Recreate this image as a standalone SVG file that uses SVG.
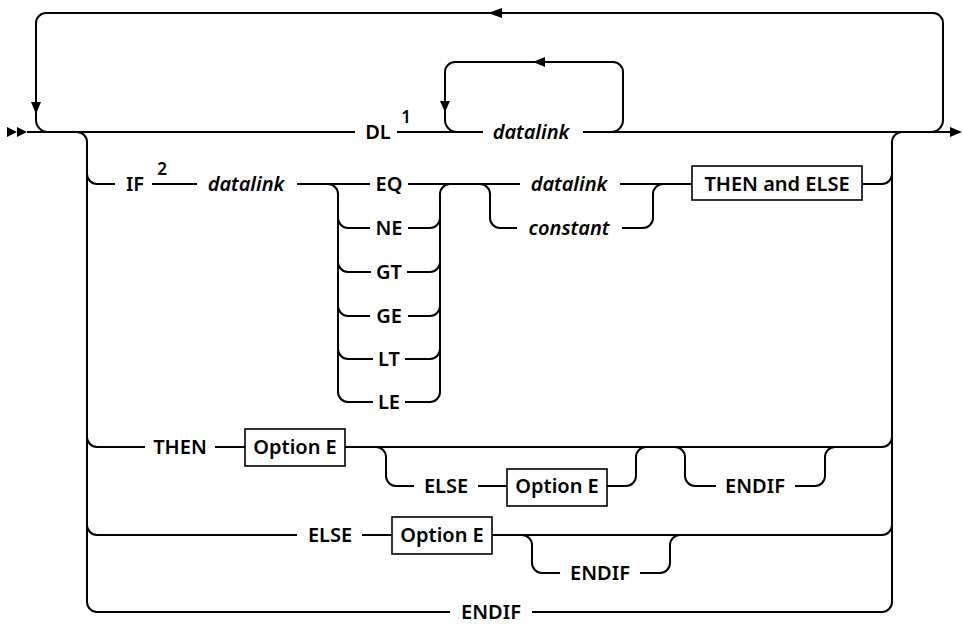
<svg xmlns="http://www.w3.org/2000/svg" width="963" height="625" viewBox="0 0 963 625">
<style>
.ln{fill:none;stroke:#000;stroke-width:2}
.ah{fill:#000;stroke:none}
.bx{fill:#fff;stroke:#000;stroke-width:1.6}
.t{font-family:"Noto Sans","Liberation Sans",sans-serif;font-size:20px;font-weight:600;text-anchor:middle;fill:#000}
.it{font-style:italic}
.sup{font-size:17px}
</style>
<rect width="963" height="625" fill="#fff"/>
<g id="connectors">
<path class="ln" d="M27,132 H355 M397,132 H483 M583,132 H952"/>
<path class="ln" d="M48,132 A12,12 0 0 1 36,120 V23 A10,10 0 0 1 46,13 H933 A10,10 0 0 1 943,23 V120 A12,12 0 0 1 931,132"/>
<path class="ln" d="M457,132 A12,12 0 0 1 445,120 V72 A10,10 0 0 1 455,62 H613 A10,10 0 0 1 623,72 V120 A12,12 0 0 1 611,132"/>
<path class="ln" d="M77,132 A10,10 0 0 1 87,142 V602 A10,10 0 0 0 97,612"/>
<path class="ln" d="M87,174 A10,10 0 0 0 97,184 M87,437 A10,10 0 0 0 97,447 M87,525 A10,10 0 0 0 97,535"/>
<path class="ln" d="M882,612 A10,10 0 0 0 892,602 V142 A10,10 0 0 1 902,132"/>
<path class="ln" d="M882,184 A10,10 0 0 0 892,174 M882,447 A10,10 0 0 0 892,437 M882,535 A10,10 0 0 0 892,525"/>
<path class="ln" d="M97,184 H115 M152,184 H197 M297,184 H370 M408,184 H520 M620,184 H692 M862,184 H882"/>
<path class="ln" d="M328,184 A10,10 0 0 1 338,194 V392 A10,10 0 0 0 348,402 M338,218 A10,10 0 0 0 348,228 M338,262 A10,10 0 0 0 348,272 M338,306 A10,10 0 0 0 348,316 M338,349 A10,10 0 0 0 348,359"/>
<path class="ln" d="M430,402 A10,10 0 0 0 440,392 V194 A10,10 0 0 1 450,184 M430,228 A10,10 0 0 0 440,218 M430,272 A10,10 0 0 0 440,262 M430,316 A10,10 0 0 0 440,306 M430,359 A10,10 0 0 0 440,349"/>
<path class="ln" d="M348,228 H370 M408,228 H430 M348,272 H371 M407,272 H430 M348,316 H370 M408,316 H430 M348,359 H373 M405,359 H430 M348,402 H373 M405,402 H430"/>
<path class="ln" d="M480,184 A10,10 0 0 1 490,194 V218 A10,10 0 0 0 500,228 H517 M622,228 H643 A10,10 0 0 0 653,218 V194 A10,10 0 0 1 663,184"/>
<path class="ln" d="M97,447 H145 M215,447 H245 M345,447 H882"/>
<path class="ln" d="M376,447 A10,10 0 0 1 386,457 V476 A10,10 0 0 0 396,486 H414 M478,486 H507 M607,486 H626 A10,10 0 0 0 636,476 V457 A10,10 0 0 1 646,447"/>
<path class="ln" d="M675,447 A10,10 0 0 1 685,457 V476 A10,10 0 0 0 695,486 H716 M795,486 H815 A10,10 0 0 0 825,476 V457 A10,10 0 0 1 835,447"/>
<path class="ln" d="M97,535 H297 M362,535 H392 M492,535 H882"/>
<path class="ln" d="M522,535 A10,10 0 0 1 532,545 V563 A10,10 0 0 0 542,573 H560 M640,573 H660 A10,10 0 0 0 670,563 V545 A10,10 0 0 1 680,535"/>
<path class="ln" d="M97,612 H450 M532,612 H882"/>
<polygon class="ah" points="7,127 17,132 7,137"/>
<polygon class="ah" points="17,127 27,132 17,137"/>
<polygon class="ah" points="950,127 962,132 950,137"/>
<polygon class="ah" points="488,13 502,8 502,18"/>
<polygon class="ah" points="36,114 31,102 41,102"/>
<polygon class="ah" points="533,62 545,57 545,67"/>
<polygon class="ah" points="445,112 440,101 450,101"/>
</g>
<g id="n-dl"><text class="t" x="378" y="139">DL</text><text class="t sup" x="406" y="123">1</text></g>
<g id="n-dl-datalink"><text class="t it" x="531" y="139">datalink</text></g>
<g id="n-if"><text class="t" x="135" y="191">IF</text><text class="t sup" x="162" y="175">2</text></g>
<g id="n-if-datalink"><text class="t it" x="246" y="191">datalink</text></g>
<g id="n-eq"><text class="t" x="389" y="191">EQ</text></g>
<g id="n-ne"><text class="t" x="389" y="235">NE</text></g>
<g id="n-gt"><text class="t" x="389" y="279">GT</text></g>
<g id="n-ge"><text class="t" x="389" y="323">GE</text></g>
<g id="n-lt"><text class="t" x="389" y="366">LT</text></g>
<g id="n-le"><text class="t" x="389" y="409">LE</text></g>
<g id="n-cmp-datalink"><text class="t it" x="569" y="191">datalink</text></g>
<g id="n-constant"><text class="t it" x="569" y="235">constant</text></g>
<g id="n-then-else"><rect class="bx" x="692" y="166" width="170" height="34"/><text class="t" x="777" y="191">THEN and ELSE</text></g>
<g id="n-then"><text class="t" x="180" y="454">THEN</text></g>
<g id="n-then-opt"><rect class="bx" x="245" y="429" width="100" height="37"/><text class="t" x="295" y="454">Option E</text></g>
<g id="n-then-else-kw"><text class="t" x="446" y="493">ELSE</text></g>
<g id="n-then-else-opt"><rect class="bx" x="507" y="469" width="100" height="37"/><text class="t" x="557" y="493">Option E</text></g>
<g id="n-then-endif"><text class="t" x="755" y="493">ENDIF</text></g>
<g id="n-else"><text class="t" x="330" y="542">ELSE</text></g>
<g id="n-else-opt"><rect class="bx" x="392" y="517" width="100" height="37"/><text class="t" x="442" y="542">Option E</text></g>
<g id="n-else-endif"><text class="t" x="600" y="580">ENDIF</text></g>
<g id="n-endif"><text class="t" x="491" y="619">ENDIF</text></g>
</svg>
